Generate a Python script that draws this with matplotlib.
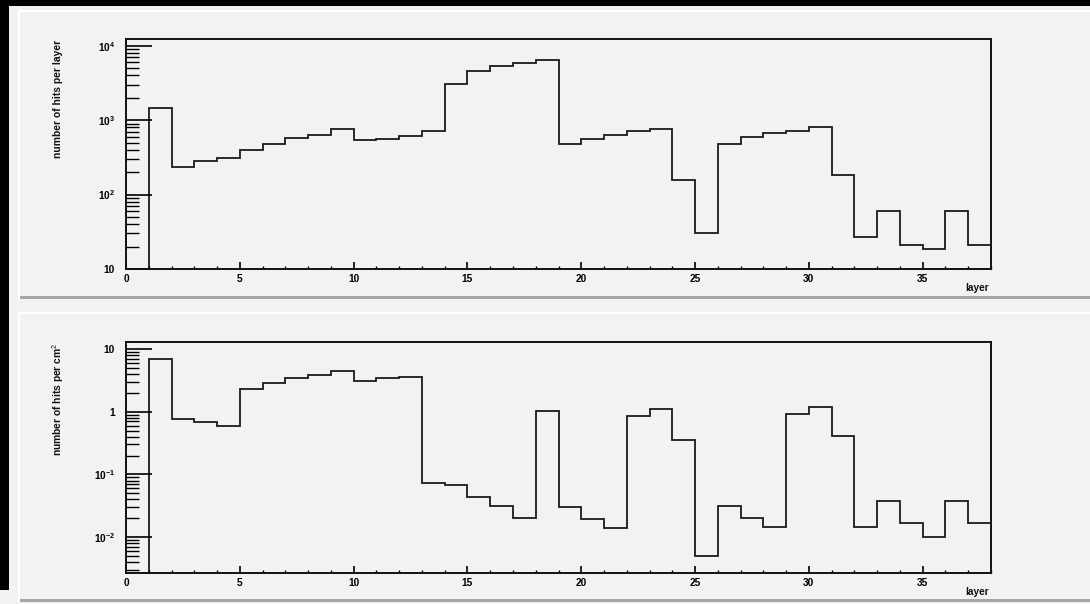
import numpy as np
import matplotlib
matplotlib.use("Agg")
import matplotlib.pyplot as plt
from matplotlib.patches import Rectangle
from matplotlib.ticker import MultipleLocator, LogLocator, NullFormatter, FuncFormatter

plt.rcParams['font.family'] = ['Liberation Sans', 'DejaVu Sans']
plt.rcParams['mathtext.fontset'] = 'custom'
plt.rcParams['mathtext.rm'] = 'Liberation Sans'
plt.rcParams['mathtext.bf'] = 'Liberation Sans:bold'
plt.rcParams['mathtext.it'] = 'Liberation Sans:italic'

# ---- data ----
layer_edges = list(range(0, 39))
hits_per_layer = [0, 1460, 234, 282, 306, 395, 476, 568, 635, 750,
                  539, 561, 610, 718, 3040, 4640, 5260, 5770, 6450, 476,
                  561, 635, 718, 750, 157, 30.7, 481, 586, 663, 718,
                  805, 184, 26.9, 60, 21.2, 18.7, 60, 21.2]
hits_per_cm2 = [0, 7.0, 0.755, 0.684, 0.597, 2.27, 2.84, 3.48, 3.85, 4.41,
                3.12, 3.44, 3.61, 0.0737, 0.0676, 0.044, 0.0313, 0.0203, 1.01, 0.0301,
                0.0194, 0.0139, 0.854, 1.09, 0.353, 0.0051, 0.0313, 0.0203, 0.0146, 0.908,
                1.19, 0.405, 0.0146, 0.0376, 0.0169, 0.0100, 0.0376, 0.0169]
ylabels = ["number of hits per layer", r"number of hits per cm$^{2}$"]
xlabel = "layer"

W, H = 1090, 604
BG = '#f2f2f2'
fig = plt.figure(figsize=(W / 100, H / 100), dpi=100, facecolor=BG)


def px_rect(x0, y0, x1, y1, color):
    fig.add_artist(Rectangle((x0 / W, 1 - y1 / H), (x1 - x0) / W, (y1 - y0) / H,
                             transform=fig.transFigure, facecolor=color,
                             edgecolor='none', zorder=0))


# frame decorations
px_rect(0, 0, W, 6, '#000000')
px_rect(0, 0, 9, 590, '#000000')
for (y0, y1) in [(10, 299), (312, 602)]:
    px_rect(18, y0, W, y1, BG)
    px_rect(18, y0, W, y0 + 2, '#ffffff')
    px_rect(18, y0, 20, y1, '#ffffff')
    px_rect(20, y1 - 3, W, y1, '#a6a6a6')


def log_fmt(v, pos):
    e = int(round(np.log10(v)))
    if e == 0:
        return '1'
    if e == 1:
        return '10'
    return r'$\mathbf{10^{%d}}$' % e


axes_px = [(126, 39, 991, 269), (126, 342, 991, 573)]
ylims = [(10, 10 ** 4.09), (10 ** -2.57, 10 ** 1.11)]
series = [hits_per_layer, hits_per_cm2]

for i in range(2):
    x0, y0, x1, y1 = axes_px[i]
    ax = fig.add_axes([x0 / W, 1 - y1 / H, (x1 - x0) / W, (y1 - y0) / H])
    ax.set_facecolor(BG)
    ax.set_yscale('log', nonpositive='clip')
    ax.stairs(series[i], layer_edges, baseline=None, color='#1a1a1a', linewidth=1.3)
    ax.set_xlim(0, 38)
    ax.set_ylim(*ylims[i])
    for s in ax.spines.values():
        s.set_linewidth(1.4)
        s.set_color('#111111')
    ax.xaxis.set_major_locator(MultipleLocator(5))
    ax.xaxis.set_minor_locator(MultipleLocator(1))
    ax.yaxis.set_major_locator(LogLocator(base=10, numticks=20))
    ax.yaxis.set_minor_locator(LogLocator(base=10, subs=np.arange(2, 10), numticks=20))
    ax.yaxis.set_major_formatter(FuncFormatter(log_fmt))
    ax.yaxis.set_minor_formatter(NullFormatter())
    ax.tick_params(axis='y', which='major', direction='in', length=19, width=1.2,
                   pad=8, labelsize=7.3, left=True, right=False)
    ax.tick_params(axis='y', which='minor', direction='in', length=9.5, width=1.0,
                   left=True, right=False)
    ax.tick_params(axis='x', which='major', direction='in', length=5, width=1.2,
                   pad=3.5, labelsize=7.3, bottom=True, top=False)
    ax.tick_params(axis='x', which='minor', direction='in', length=2.5, width=1.0,
                   bottom=True, top=False)
    for lab in ax.get_xticklabels() + ax.get_yticklabels():
        lab.set_fontweight('bold')
    fig.text(58 / W, 1 - (y0 + 1) / H, ylabels[i], rotation=90, ha='center', va='top',
             fontsize=7.4, fontweight='bold', color='#111111')
    fig.text(989 / W, 1 - (y1 + 24) / H, xlabel, ha='right', va='bottom',
             fontsize=7.3, fontweight='bold', color='#111111')

fig.savefig('out.png', dpi=100, facecolor=BG)
